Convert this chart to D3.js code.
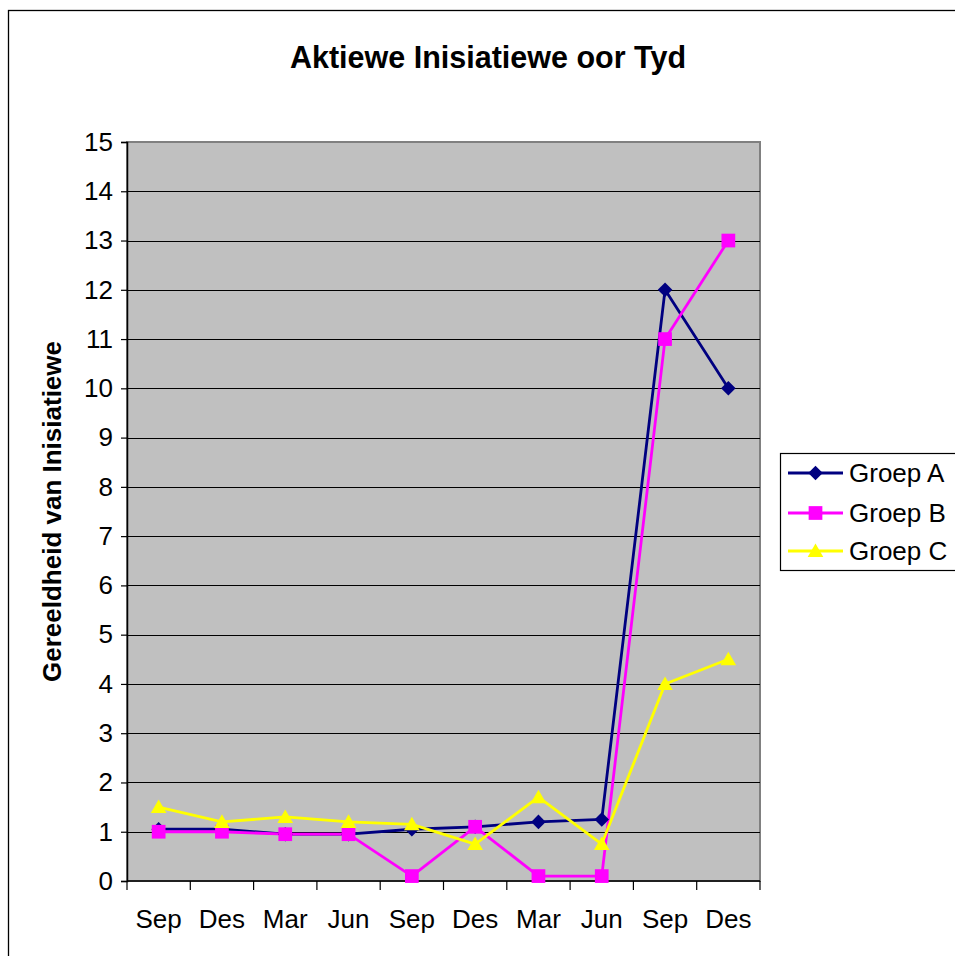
<!DOCTYPE html>
<html>
<head>
<meta charset="utf-8">
<script src="https://cdn.jsdelivr.net/npm/d3@7"></script>
<style>
  html, body { margin: 0; padding: 0; background: #fff; }
  svg { display: block; font-family: "Liberation Sans", Arial, sans-serif; }
</style>
</head>
<body>
<svg id="chart" width="955" height="956"></svg>
<script>
// Periods on the category axis (quarters over several years)
const periods = ["Sep", "Des", "Mar", "Jun", "Sep", "Des", "Mar", "Jun", "Sep", "Des"];
const yTicks = [0, 1, 2, 3, 4, 5, 6, 7, 8, 9, 10, 11, 12, 13, 14, 15];

// Active initiatives per group
const groepA = [1.05, 1.05, 0.95, 0.95, 1.05, 1.1, 1.2, 1.25, 12, 10];
const groepB = [1, 1, 0.95, 0.95, 0.1, 1.1, 0.1, 0.1, 11, 13];
const groepC = [1.5, 1.2, 1.3, 1.2, 1.15, 0.75, 1.7, 0.75, 4, 4.5];

const seriesNames = ["Groep A", "Groep B", "Groep C"];

const series = [
  { name: seriesNames[0], values: groepA, color: "#000080", marker: "diamond" },
  { name: seriesNames[1], values: groepB, color: "#FF00FF", marker: "square" },
  { name: seriesNames[2], values: groepC, color: "#FFFF00", marker: "triangle" }
];

const svg = d3.select("#chart");

// Outer chart frame
svg.append("rect")
  .attr("x", 8.5).attr("y", 10.5)
  .attr("width", 1000).attr("height", 1000)
  .attr("fill", "#fff").attr("stroke", "#000").attr("stroke-width", 1.3);

const plot = { left: 127, right: 760, top: 142, bottom: 881 };

const x = d3.scaleBand()
  .domain(d3.range(periods.length))
  .range([plot.left, plot.right])
  .paddingInner(0).paddingOuter(0);

const y = d3.scaleLinear()
  .domain([0, 15])
  .range([plot.bottom, plot.top]);

// Plot area background
svg.append("rect")
  .attr("x", plot.left).attr("y", plot.top)
  .attr("width", plot.right - plot.left).attr("height", plot.bottom - plot.top)
  .attr("fill", "#C0C0C0").attr("stroke", "#808080").attr("stroke-width", 2);

// Horizontal gridlines
svg.append("g")
  .selectAll("line")
  .data(yTicks.filter(t => t > 0 && t < 15))
  .join("line")
  .attr("x1", plot.left).attr("x2", plot.right)
  .attr("y1", d => Math.round(y(d)) + 0.5).attr("y2", d => Math.round(y(d)) + 0.5)
  .attr("stroke", "#000").attr("stroke-width", 1);

// Y axis
const yAxis = d3.axisLeft(y)
  .tickValues(yTicks)
  .tickSize(6)
  .tickPadding(8)
  .tickFormat(d3.format("d"));

const gy = svg.append("g")
  .attr("transform", `translate(${plot.left},0)`)
  .call(yAxis);
gy.select(".domain").attr("stroke", "#000").attr("stroke-width", 1.5);
gy.selectAll(".tick line").attr("stroke", "#000").attr("stroke-width", 1.2);
gy.selectAll(".tick text")
  .attr("font-size", 26).attr("fill", "#000")
  .attr("font-family", "'Liberation Sans', Arial, sans-serif");

// X axis: ticks on category boundaries, labels centred in bands
const xAxisG = svg.append("g");
xAxisG.append("line")
  .attr("x1", plot.left).attr("x2", plot.right)
  .attr("y1", plot.bottom).attr("y2", plot.bottom)
  .attr("stroke", "#000").attr("stroke-width", 1.5);
const boundaries = d3.range(periods.length + 1).map(i =>
  i < periods.length ? x(i) : x(periods.length - 1) + x.bandwidth());
xAxisG.selectAll("line.tk")
  .data(boundaries)
  .join("line").attr("class", "tk")
  .attr("x1", d => d).attr("x2", d => d)
  .attr("y1", plot.bottom).attr("y2", plot.bottom + 9)
  .attr("stroke", "#000").attr("stroke-width", 1.2);
xAxisG.selectAll("text")
  .data(periods)
  .join("text")
  .attr("x", (d, i) => x(i) + x.bandwidth() / 2)
  .attr("y", 928)
  .attr("text-anchor", "middle")
  .attr("font-size", 26)
  .attr("fill", "#000")
  .text(d => d);

// Series lines
const line = d3.line()
  .x((d, i) => x(i) + x.bandwidth() / 2)
  .y(d => y(d));

const symbolFor = {
  diamond: d3.symbol().type(d3.symbolDiamond2).size(135),
  square: d3.symbol().type(d3.symbolSquare2).size(240),
  triangle: d3.symbol().type(d3.symbolTriangle2).size(175)
};

series.forEach(s => {
  svg.append("g").append("path")
    .datum(s.values)
    .attr("d", line)
    .attr("fill", "none")
    .attr("stroke", s.color)
    .attr("stroke-width", 2.8)
    .attr("stroke-linejoin", "round");
});

series.forEach(s => {
  svg.append("g")
    .selectAll("path")
    .data(s.values)
    .join("path")
    .attr("transform", (d, i) => {
      const dy = s.marker === "triangle" ? 1.5 : 0;
      return `translate(${x(i) + x.bandwidth() / 2},${y(d) + dy})`;
    })
    .attr("d", symbolFor[s.marker]())
    .attr("fill", s.color)
    .attr("stroke", "none");
});

// Chart title
svg.append("text")
  .attr("x", 488).attr("y", 68)
  .attr("text-anchor", "middle")
  .attr("font-size", 30.5)
  .attr("font-weight", "bold")
  .attr("fill", "#000")
  .text("Aktiewe Inisiatiewe oor Tyd");

// Y axis title
svg.append("text")
  .attr("transform", `translate(61,${(plot.top + plot.bottom) / 2}) rotate(-90)`)
  .attr("text-anchor", "middle")
  .attr("font-size", 26)
  .attr("font-weight", "bold")
  .attr("fill", "#000")
  .text("Gereeldheid van Inisiatiewe");

// Legend
const legend = svg.append("g");
legend.append("rect")
  .attr("x", 780.5).attr("y", 453.5)
  .attr("width", 300).attr("height", 117)
  .attr("fill", "#fff").attr("stroke", "#000").attr("stroke-width", 1.2);

const rowY = [473, 513, 551];
series.forEach((s, i) => {
  const row = legend.append("g").attr("transform", `translate(0,${rowY[i]})`);
  row.append("line")
    .attr("x1", 788).attr("x2", 843)
    .attr("y1", 0).attr("y2", 0)
    .attr("stroke", s.color).attr("stroke-width", 2.8);
  row.append("path")
    .attr("transform", `translate(815.5,${s.marker === "triangle" ? 1.5 : 0})`)
    .attr("d", symbolFor[s.marker]())
    .attr("fill", s.color);
  row.append("text")
    .attr("x", 849).attr("y", 9)
    .attr("font-size", 26)
    .attr("fill", "#000")
    .text(s.name);
});
</script>
</body>
</html>
